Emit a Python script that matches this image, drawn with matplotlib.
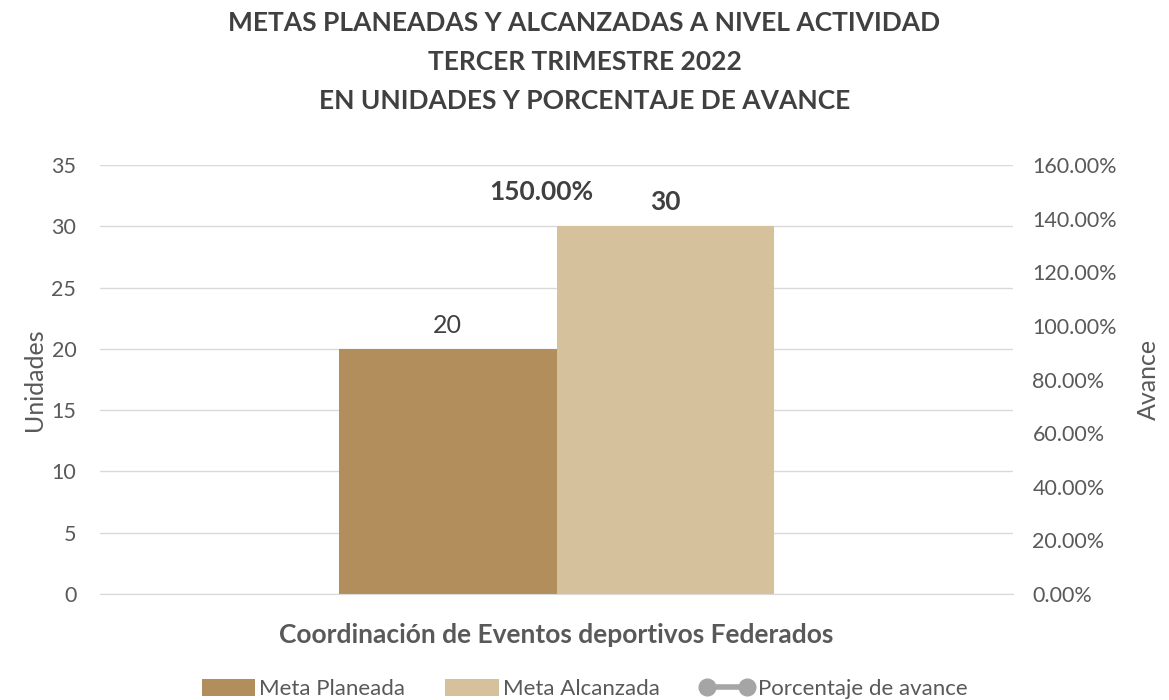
import matplotlib.pyplot as plt
from matplotlib.lines import Line2D
from matplotlib.ticker import PercentFormatter
import numpy as np

plt.rcParams['font.family'] = ['Lato', 'DejaVu Sans']

# Datos
categoria = ["Coordinación de Eventos deportivos Federados"]
meta_planeada = [20]
meta_alcanzada = [30]
porcentaje_avance = [1.50]

col_plan = "#B38E5D"
col_alc = "#D5C19C"
col_txt = "#595959"

fig = plt.figure(figsize=(11.69, 7.0), dpi=100)
ax = fig.add_axes([0.0855, 0.1514, 0.7811, 0.6129])
ax2 = ax.twinx()

x = np.arange(len(categoria))
ancho = 0.238
b1 = ax.bar(x - ancho / 2, meta_planeada, ancho, color=col_plan, label="Meta Planeada", zorder=3)
b2 = ax.bar(x + ancho / 2, meta_alcanzada, ancho, color=col_alc, label="Meta Alcanzada", zorder=3)

# la linea de avance no se ve en el original, solo la etiqueta
ax2.plot(x, porcentaje_avance, color="#A5A5A5", marker="o", markersize=0, linewidth=0)

ax.set_xlim(-0.5, 0.5)
ax.set_ylim(0, 35)
ax.set_yticks(range(0, 36, 5))
ax2.set_ylim(0, 1.6)
ax2.set_yticks(np.arange(0, 1.61, 0.2))
ax2.yaxis.set_major_formatter(PercentFormatter(1.0, decimals=2))

ax.grid(axis="y", color="#D9D9D9", linewidth=1, zorder=0)
for a in (ax, ax2):
    for s in ("top", "left", "right"):
        a.spines[s].set_visible(False)
    a.tick_params(length=0, labelsize=15.5, colors=col_txt)
ax.tick_params(axis="y", pad=17)
ax2.tick_params(axis="y", pad=14)
ax.spines["bottom"].set_visible(False)
ax2.spines["bottom"].set_color("#D9D9D9")

ax.set_xticks(x)
ax.set_xticklabels(categoria, fontsize=19, fontweight="bold", color=col_txt)
ax.tick_params(axis="x", pad=21)

ax.set_ylabel("Unidades", fontsize=18, color=col_txt, labelpad=4)
ax2.set_ylabel("Avance", fontsize=18, color=col_txt, labelpad=14)

# etiquetas de datos
for xi, v in zip(x, meta_planeada):
    ax.text(xi - ancho / 2, v + 1.0, f"{v}", ha="center", va="bottom", fontsize=18, color="#404040")
for xi, v in zip(x, meta_alcanzada):
    ax.text(xi + ancho / 2, v + 1.0, f"{v}", ha="center", va="bottom", fontsize=19,
            fontweight="bold", color="#404040")
for xi, v in zip(x, porcentaje_avance):
    ax2.text(xi - 0.017, v, f"{v * 100:.2f}%", ha="center", va="center", fontsize=19,
             fontweight="bold", color="#404040")

fig.text(0.5, 0.967, "METAS PLANEADAS Y ALCANZADAS A NIVEL ACTIVIDAD", ha="center", va="center",
         fontsize=19, fontweight="bold", color="#404040")
fig.text(0.5, 0.911, "TERCER TRIMESTRE 2022", ha="center", va="center",
         fontsize=19, fontweight="bold", color="#404040")
fig.text(0.5, 0.856, "EN UNIDADES Y PORCENTAJE DE AVANCE", ha="center", va="center",
         fontsize=19, fontweight="bold", color="#404040")

handles = [b1, b2,
           Line2D([0], [0], color="#A5A5A5", linewidth=4, marker="o", markersize=12)]
fig.legend(handles, ["Meta Planeada", "Meta Alcanzada", "Porcentaje de avance"],
           loc="center", bbox_to_anchor=(0.5, 0.016), ncol=3, frameon=False,
           fontsize=16, labelcolor=col_txt, handlelength=2.4, handleheight=0.85,
           handletextpad=0.2, columnspacing=1.8, numpoints=2)

fig.savefig("out.png", dpi=100)
